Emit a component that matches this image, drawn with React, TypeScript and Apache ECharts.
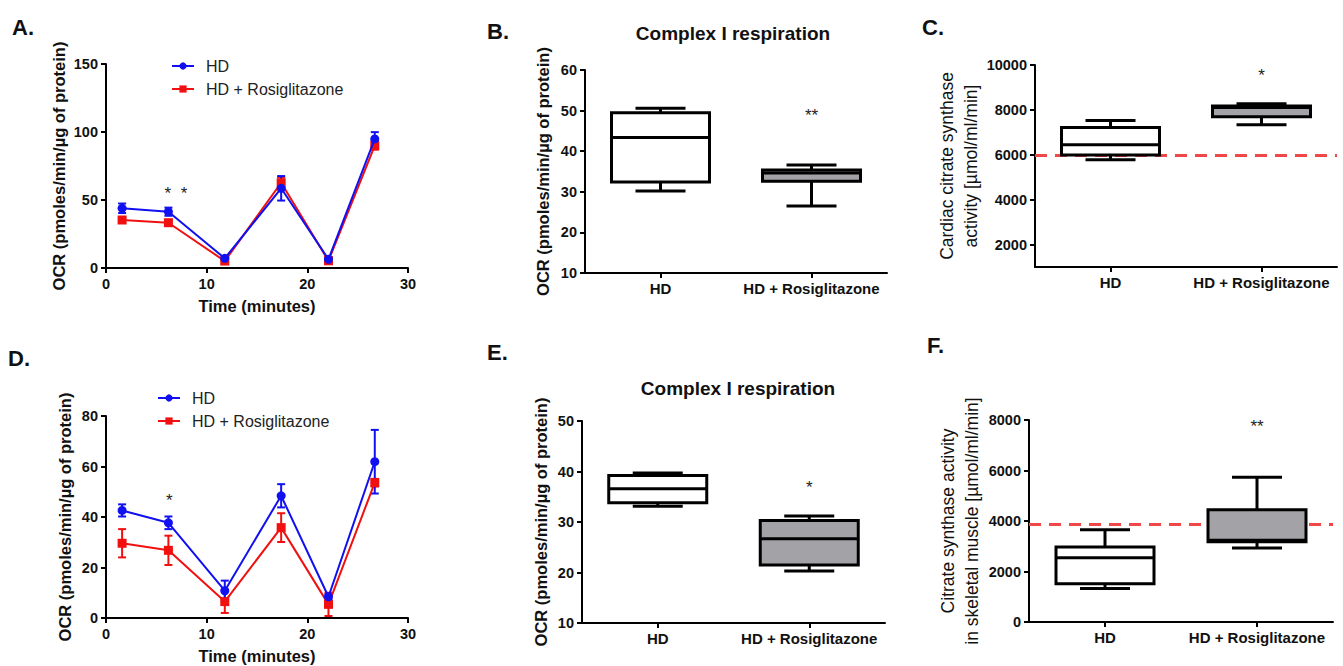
import React, { useEffect, useRef } from 'react';
import * as echarts from 'echarts';

// ---------- data ----------
const timePoints = [1.6, 6.2, 11.8, 17.4, 22.1, 26.7];
const aHD = [43.9, 41.4, 7.1, 58.6, 6.4, 94.9];
const aHDErr = [3.5, 3, 1.5, 9, 1.5, 5];
const aRosi = [35.3, 33.3, 5.1, 62.7, 5.3, 90];
const aRosiErr = [2, 2, 1.5, 4, 1.5, 3];
const dHD = [42.6, 37.7, 10.8, 48.4, 8.4, 61.9];
const dHDErr = [2.4, 2.5, 4, 4.6, 1, 12.6];
const dRosi = [29.6, 26.8, 6.5, 35.8, 5.4, 53.6];
const dRosiErr = [5.6, 5.8, 4.5, 5.7, 4.6, 1.5];

const groups = ['HD', 'HD + Rosiglitazone'];
// [min, Q1, median, Q3, max]
const bBoxes = [[30.2, 32.4, 43.4, 49.5, 50.6], [26.5, 32.6, 34.6, 35.4, 36.6]];
const cBoxes = [[5775, 5995, 6450, 7220, 7530], [7340, 7690, 8110, 8170, 8270]];
const eBoxes = [[33.1, 33.8, 36.6, 39.2, 39.7], [20.3, 21.5, 26.7, 30.3, 31.2]];
const fBoxes = [[1329, 1515, 2543, 2966, 3650], [2926, 3180, 3240, 4441, 5734]];
const cReference = 6000;
const fReference = 3880;
const cTicks = [2000, 4000, 6000, 8000, 10000];

// significance marks [x, y, text]
const sigA: [number, number, string][] = [[6.95, 55, '*  *']];
const sigD: [number, number, string][] = [[6.3, 46.6, '*']];
const sigB: [number, number, string][] = [[1, 48.8, '**']];
const sigC: [number, number, string][] = [[1, 9520, '*']];
const sigE: [number, number, string][] = [[1, 36.8, '*']];
const sigF: [number, number, string][] = [[1, 7760, '**']];

const FONT = '"Liberation Sans", Arial, Helvetica, sans-serif';
const BLUE = '#1010f0';
const RED = '#f01010';
const FILLS = ['#ffffff', '#a3a2a7'];

const grids = [
  { left: 106, top: 64, width: 302, height: 204 }, // A
  { left: 585, top: 70, width: 302, height: 203 }, // B
  { left: 1035, top: 65, width: 302, height: 202 }, // C
  { left: 106, top: 416, width: 302, height: 202 }, // D
  { left: 582, top: 421, width: 303, height: 202 }, // E
  { left: 1029, top: 420, width: 304, height: 202 }, // F
];

const axisLine = { show: true, lineStyle: { color: '#000', width: 2 } };
const axisTick = { show: true, length: 5, lineStyle: { color: '#000', width: 2 } };
const tickLabel = {
  color: '#111', fontFamily: FONT, fontWeight: 'bold' as const, fontSize: 14.5, margin: 8,
  formatter: (v: number | string) => String(v),
};
const nameStyleBold = { color: '#111', fontFamily: FONT, fontWeight: 'bold' as const, fontSize: 16.5 };
const nameStyleReg = { color: '#111', fontFamily: FONT, fontWeight: 'normal' as const, fontSize: 17.5, lineHeight: 24 };

function valueX(gridIndex: number) {
  return {
    type: 'value', gridIndex, min: 0, max: 30, interval: 10,
    axisLine, axisTick, axisLabel: tickLabel, splitLine: { show: false },
    name: 'Time (minutes)', nameLocation: 'middle', nameGap: 29, nameTextStyle: nameStyleBold,
  };
}
function catX(gridIndex: number) {
  return {
    type: 'category', gridIndex, data: groups,
    axisLine, axisTick: { ...axisTick, alignWithLabel: true, interval: 0 },
    axisLabel: { ...tickLabel, fontSize: 15, interval: 0, hideOverlap: false }, splitLine: { show: false },
  };
}
function valueY(gridIndex: number, min: number, max: number, interval: number | null, name: string, gap: number, reg = false, custom?: number[]) {
  const y: any = {
    type: 'value', gridIndex, min, max,
    axisLine, axisTick: { ...axisTick }, axisLabel: { ...tickLabel }, splitLine: { show: false },
    name, nameLocation: 'middle', nameRotate: 90, nameGap: gap,
    nameTextStyle: reg ? nameStyleReg : nameStyleBold,
  };
  if (interval != null) y.interval = interval;
  if (custom) {
    y.axisTick.customValues = custom;
    y.axisLabel.customValues = custom;
  }
  return y;
}

function lineSeries(name: string, idx: number, values: number[], color: string, symbol: string) {
  return {
    type: 'line', name, xAxisIndex: idx, yAxisIndex: idx,
    data: timePoints.map((t, i) => [t, values[i]]),
    symbol, symbolSize: 9,
    lineStyle: { color, width: 2 }, itemStyle: { color },
    z: color === BLUE ? 5 : 4,
  };
}

function errSeries(idx: number, values: number[], errs: number[], color: string) {
  return {
    type: 'custom', xAxisIndex: idx, yAxisIndex: idx, silent: true,
    data: timePoints.map((t, i) => [t, values[i] - errs[i], values[i] + errs[i]]),
    renderItem: (params: any, api: any) => {
      const lo = api.coord([api.value(0), api.value(1)]);
      const hi = api.coord([api.value(0), api.value(2)]);
      const x = lo[0];
      const st = { stroke: color, lineWidth: 2 };
      return {
        type: 'group', children: [
          { type: 'line', shape: { x1: x, y1: lo[1], x2: x, y2: hi[1] }, style: st },
          { type: 'line', shape: { x1: x - 4, y1: lo[1], x2: x + 4, y2: lo[1] }, style: st },
          { type: 'line', shape: { x1: x - 4, y1: hi[1], x2: x + 4, y2: hi[1] }, style: st },
        ],
      };
    },
    z: color === BLUE ? 3 : 2,
  };
}

function boxSeries(idx: number, boxes: number[][], ref?: number) {
  const s: any = {
    type: 'custom', xAxisIndex: idx, yAxisIndex: idx, silent: true,
    data: boxes.map((b, i) => [i, ...b]),
    renderItem: (params: any, api: any) => {
      const i = api.value(0);
      const pMin = api.coord([i, api.value(1)]);
      const pQ1 = api.coord([i, api.value(2)]);
      const pMed = api.coord([i, api.value(3)]);
      const pQ3 = api.coord([i, api.value(4)]);
      const pMax = api.coord([i, api.value(5)]);
      const cx = pMin[0];
      const hw = 49;
      const cw = 25;
      const st = { stroke: '#000', lineWidth: 3 };
      return {
        type: 'group', children: [
          { type: 'line', shape: { x1: cx, y1: pMin[1], x2: cx, y2: pQ1[1] }, style: st },
          { type: 'line', shape: { x1: cx, y1: pQ3[1], x2: cx, y2: pMax[1] }, style: st },
          { type: 'line', shape: { x1: cx - cw, y1: pMin[1], x2: cx + cw, y2: pMin[1] }, style: st },
          { type: 'line', shape: { x1: cx - cw, y1: pMax[1], x2: cx + cw, y2: pMax[1] }, style: st },
          { type: 'rect', shape: { x: cx - hw, y: pQ3[1], width: 2 * hw, height: pQ1[1] - pQ3[1] }, style: { fill: FILLS[params.dataIndex], stroke: '#000', lineWidth: 3 } },
          { type: 'line', shape: { x1: cx - hw, y1: pMed[1], x2: cx + hw, y2: pMed[1] }, style: st },
        ],
      };
    },
    z: 3,
  };
  if (ref != null) {
    s.markLine = {
      silent: true, symbol: 'none', animation: false,
      label: { show: false },
      lineStyle: { color: '#f04848', type: [12, 8], width: 3 },
      data: [{ yAxis: ref }],
      z: 2,
    };
  }
  return s;
}

function sigSeries(idx: number, marks: [number, number, string][]) {
  return {
    type: 'custom', xAxisIndex: idx, yAxisIndex: idx, silent: true,
    data: marks.map((m) => [m[0], m[1]]),
    renderItem: (params: any, api: any) => {
      const p = api.coord([api.value(0), api.value(1)]);
      return {
        type: 'text', x: p[0], y: p[1],
        style: { text: marks[params.dataIndex][2], fill: '#222', font: `17px ${FONT}`, align: 'center', verticalAlign: 'middle' },
      };
    },
    z: 6,
  };
}

function panelText(text: string, x: number, y: number, size: number, align = 'left') {
  return {
    type: 'text', x, y,
    style: { text, fill: '#111', font: `bold ${size}px ${FONT}`, align, verticalAlign: 'middle' },
  };
}

export default function App() {
  const ref = useRef<HTMLDivElement>(null);
  useEffect(() => {
    if (!ref.current) return;
    const chart = echarts.init(ref.current, undefined, { renderer: 'svg' });
    const legendCommon = {
      orient: 'vertical', selectedMode: false, itemWidth: 22, itemHeight: 9, itemGap: 7,
      textStyle: { color: '#222', fontFamily: FONT, fontSize: 16, lineHeight: 16, padding: [0, 0, 0, 7] },
      data: groups,
    };
    chart.setOption({
      animation: false,
      backgroundColor: '#fff',
      grid: grids,
      xAxis: [valueX(0), catX(1), catX(2), valueX(3), catX(4), catX(5)],
      yAxis: [
        valueY(0, 0, 150, 50, 'OCR (pmoles/min/µg of protein)', 39),
        valueY(1, 10, 60, 10, 'OCR (pmoles/min/µg of protein)', 34),
        valueY(2, 1000, 10000, null, 'Cardiac citrate synthase\nactivity [µmol/ml/min]', 51, true, cTicks),
        valueY(3, 0, 80, 20, 'OCR (pmoles/min/µg of protein)', 33),
        valueY(4, 10, 50, 10, 'OCR (pmoles/min/µg of protein)', 33),
        valueY(5, 0, 8000, 2000, 'Citrate synthase activity\nin skeletal muscle [µmol/ml/min]', 45, true),
      ],
      legend: [
        { ...legendCommon, left: 166, top: 53 },
        { ...legendCommon, left: 152, top: 385 },
      ],
      series: [
        errSeries(0, aRosi, aRosiErr, RED),
        errSeries(0, aHD, aHDErr, BLUE),
        lineSeries('HD + Rosiglitazone', 0, aRosi, RED, 'rect'),
        lineSeries('HD', 0, aHD, BLUE, 'circle'),
        errSeries(3, dRosi, dRosiErr, RED),
        errSeries(3, dHD, dHDErr, BLUE),
        lineSeries('HD + Rosiglitazone', 3, dRosi, RED, 'rect'),
        lineSeries('HD', 3, dHD, BLUE, 'circle'),
        boxSeries(1, bBoxes),
        boxSeries(2, cBoxes, cReference),
        boxSeries(4, eBoxes),
        boxSeries(5, fBoxes, fReference),
        sigSeries(0, sigA),
        sigSeries(3, sigD),
        sigSeries(1, sigB),
        sigSeries(2, sigC),
        sigSeries(4, sigE),
        sigSeries(5, sigF),
      ],
      graphic: [
        panelText('A.', 12, 27, 22),
        panelText('B.', 487, 31, 22),
        panelText('C.', 922, 27, 22),
        panelText('D.', 8, 358, 22),
        panelText('E.', 487, 352, 22),
        panelText('F.', 927, 345, 22),
        panelText('Complex I respiration', 733, 33, 19, 'center'),
        panelText('Complex I respiration', 738, 388, 19, 'center'),
      ],
    });
    return () => chart.dispose();
  }, []);
  return <div ref={ref} style={{ position: 'absolute', left: 0, top: 0, width: 1343, height: 666, background: '#fff' }} />;
}
